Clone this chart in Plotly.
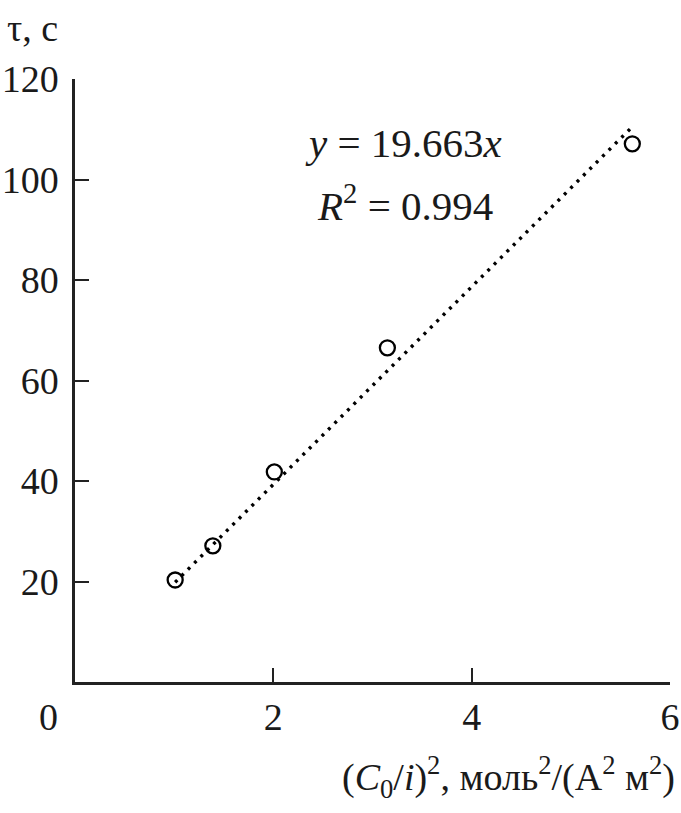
import plotly.graph_objects as go

# Data
x_pts = [1.01, 1.39, 2.01, 3.15, 5.62]
y_pts = [20.3, 27.1, 41.8, 66.5, 107.1]
trend_x = [1.01, 5.6]
trend_y = [19.86, 110.1]
x_ticks = [2, 4, 6]
y_ticks = [20, 40, 60, 80, 100, 120]

FONT = "Liberation Serif, Times New Roman, serif"
FS = 38

fig = go.Figure()
fig.add_trace(go.Scatter(x=trend_x, y=trend_y, mode="lines",
                         line=dict(color="black", width=3.4, dash="3px,6px"),
                         showlegend=False, hoverinfo="skip"))
fig.add_trace(go.Scatter(x=x_pts, y=y_pts, mode="markers",
                         marker=dict(symbol="circle-open", size=15, color="black",
                                     line=dict(width=2.3, color="black")),
                         showlegend=False))

fig.update_layout(
    width=681, height=813,
    margin=dict(l=75, r=11, t=79, b=131),
    plot_bgcolor="white", paper_bgcolor="white",
    font=dict(family=FONT, size=FS, color="#1a1a1a"),
    xaxis=dict(range=[0, 6], tickvals=x_ticks, ticks="inside", ticklen=14, tickwidth=2,
               tickcolor="#222", showline=True, linewidth=2.5, linecolor="#222",
               showgrid=False, zeroline=False, ticklabelstandoff=0, automargin=False,
               tickfont=dict(family=FONT, size=FS)),
    yaxis=dict(range=[0, 120], tickvals=y_ticks, ticks="inside", ticklen=14, tickwidth=2,
               tickcolor="#222", showline=True, linewidth=2.5, linecolor="#222",
               showgrid=False, zeroline=False, ticklabelstandoff=6, automargin=False,
               tickfont=dict(family=FONT, size=FS)),
)

ann = dict(showarrow=False, font=dict(family=FONT, size=FS, color="#1a1a1a"))
eq = dict(showarrow=False, font=dict(family=FONT, size=41, color="#1a1a1a"))
fig.add_annotation(text="τ, с", xref="paper", yref="paper", x=-0.1176, y=1.0846,
                   xanchor="left", yanchor="middle", **ann)
fig.add_annotation(text="0", xref="paper", yref="paper", x=-0.0437, y=-0.058,
                   xanchor="center", yanchor="middle", **ann)
fig.add_annotation(text="(<i>C</i><sub>0</sub>/<i>i</i>)<sup>2</sup>, моль<sup>2</sup>/(А<sup>2</sup> м<sup>2</sup>)",
                   xref="paper", yref="paper", x=1.0118, y=-0.1575,
                   xanchor="right", yanchor="middle", **ann)
fig.add_annotation(text="<i>y</i> = 19.663<i>x</i>", xref="x", yref="y", x=3.31, y=107.3,
                   xanchor="center", yanchor="middle", **eq)
fig.add_annotation(text="<i>R</i><sup>2</sup> = 0.994", xref="x", yref="y", x=3.33, y=95.3,
                   xanchor="center", yanchor="middle", **eq)

fig.write_html("out.html", config={"displayModeBar": False},
               post_script="document.body.style.margin='0';document.body.style.overflow='hidden';")
